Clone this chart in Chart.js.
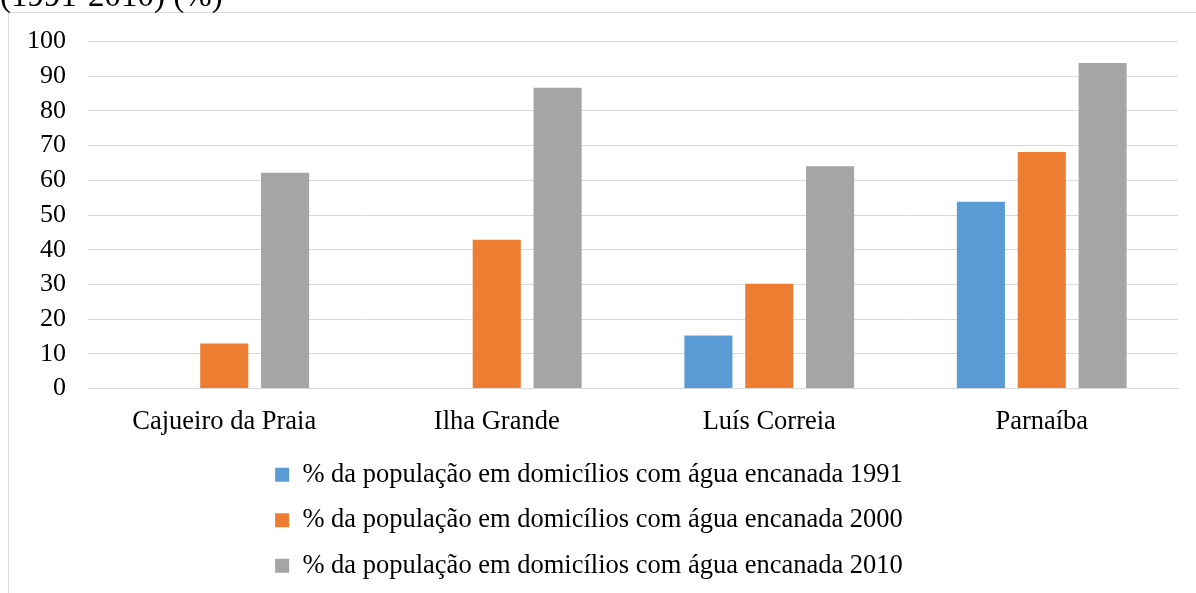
<!DOCTYPE html>
<html>
<head>
<meta charset="utf-8">
<script src="https://cdn.jsdelivr.net/npm/chart.js@4"></script>
<style>
  html, body { margin: 0; padding: 0; background: #fff; overflow: hidden; }
  body { width: 1196px; height: 593px; position: relative; }
  #frame { position: absolute; left: 8px; top: 12px; width: 1200px; height: 600px; border: 1px solid #d9d9d9; box-sizing: border-box; }
  #wrap { position: absolute; left: 0; top: -24px; width: 1196px; height: 625px; }
</style>
</head>
<body>
<div id="frame"></div>
<div id="wrap"><canvas id="chart"></canvas></div>
<script>
const municipios = ["Cajueiro da Praia", "Ilha Grande", "Luís Correia", "Parnaíba"];
const agua1991 = [null, null, 15.3, 53.8];
const agua2000 = [13.0, 42.9, 30.2, 68.2];
const agua2010 = [62.2, 86.7, 64.1, 93.8];
const seriesLabels = [
  "% da população em domicílios com água encanada 1991",
  "% da população em domicílios com água encanada 2000",
  "% da população em domicílios com água encanada 2010",
];

const serif = "'Liberation Serif', 'Times New Roman', serif";
Chart.defaults.font.family = serif;
Chart.defaults.color = "#000";

const ctx = document.getElementById("chart").getContext("2d");
new Chart(ctx, {
  type: "bar",
  data: {
    labels: municipios,
    datasets: [
      { label: seriesLabels[0], data: agua1991, backgroundColor: "#5b9bd5" },
      { label: seriesLabels[1], data: agua2000, backgroundColor: "#ed7d31" },
      { label: seriesLabels[2], data: agua2010, backgroundColor: "#a5a5a5" },
    ],
  },
  options: {
    responsive: true,
    maintainAspectRatio: false,
    animation: false,
    categoryPercentage: 0.67,
    barPercentage: 0.79,
    layout: { padding: { left: 0, right: 18, top: 0, bottom: 12 } },
    scales: {
      y: {
        min: 0,
        max: 100,
        ticks: { stepSize: 10, padding: 22, font: { size: 26 } },
        grid: { color: "#d9d9d9", drawTicks: false },
        border: { display: false },
        afterFit: (scale) => { scale.width = 88; },
      },
      x: {
        ticks: { padding: 10, font: { size: 26.5 } },
        grid: { display: false },
        border: { color: "#d9d9d9" },
        afterFit: (scale) => { scale.height = 54; },
      },
    },
    plugins: {
      title: {
        display: true,
        text: "(1991-2010) (%)",
        align: "start",
        font: { size: 33, weight: "normal" },
        padding: { top: 2, bottom: 24 },
      },
      legend: {
        position: "bottom",
        labels: { font: { size: 26.5 }, boxWidth: 14, boxHeight: 14, padding: 19 },
      },
      tooltip: { enabled: false },
    },
  },
});
</script>
</body>
</html>
